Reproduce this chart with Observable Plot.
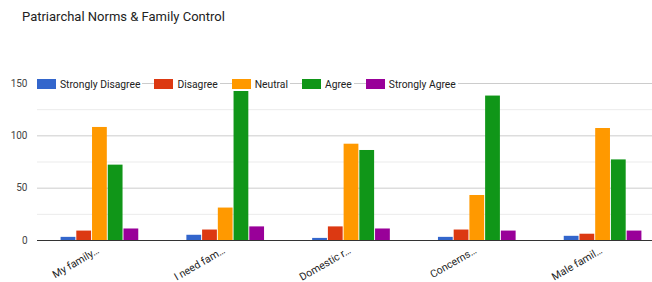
<!DOCTYPE html>
<html>
<head>
<meta charset="utf-8">
<script src="https://cdn.jsdelivr.net/npm/d3@7"></script>
<script src="https://cdn.jsdelivr.net/npm/@observablehq/plot@0.6"></script>
<style>
  html, body { margin: 0; padding: 0; background: #fff; }
  #wrap { position: relative; width: 652px; height: 282px; font-family: Roboto, Arial, sans-serif; }
  #title { position: absolute; left: 22px; top: 9px; font-size: 13px; color: #222; white-space: nowrap; }
  #legend { position: absolute; left: 37px; top: 78px; height: 12px; display: flex; align-items: center; font-size: 10.3px; color: #222; }
  #legend .item { display: flex; align-items: center; background: #fff; padding-right: 2px; }
  #legend .sw { width: 19px; height: 10px; margin-right: 4px; }
  #chart svg { display: block; }
</style>
</head>
<body>
<div id="wrap">
  <div id="chart"></div>
  <div id="title">Patriarchal Norms &amp; Family Control</div>
  <div id="legend"></div>
</div>
<script>
const categories = ["My family…", "I need fam…", "Domestic r…", "Concerns…", "Male famil…"];
const seriesNames = ["Strongly Disagree", "Disagree", "Neutral", "Agree", "Strongly Agree"];
const stronglyDisagree = [3, 5, 2, 3, 4];
const disagree = [9, 10, 13, 10, 6];
const neutral = [108, 31, 92, 43, 107];
const agree = [72, 144, 86, 138, 77];
const stronglyAgree = [11, 13, 11, 9, 9];
const yTicks = [0, 50, 100, 150];
const yMinor = [25, 75, 125];
const colors = ["#3366cc", "#dc3912", "#ff9900", "#109618", "#990099"];

const seriesValues = [stronglyDisagree, disagree, neutral, agree, stronglyAgree];
const key = (c, s) => c + "|" + s;

const rows = [];
categories.forEach((c, i) => {
  seriesNames.forEach((s, j) => {
    rows.push({category: c, series: s, value: seriesValues[j][i], key: key(c, s)});
  });
});

// band domain: bars of each category, with spacer slots between categories
const domain = [];
categories.forEach((c, i) => {
  seriesNames.forEach(s => domain.push(key(c, s)));
  if (i < categories.length - 1) for (let k = 0; k < 3; k++) domain.push("gap" + i + "_" + k);
});

const W = 652, H = 282;
const chart = Plot.plot({
  width: W,
  height: H,
  marginLeft: 37,
  marginRight: 0,
  marginTop: 83,
  marginBottom: 42,
  style: {fontFamily: "Roboto, Arial, sans-serif", background: "#fff", overflow: "visible"},
  x: {domain, range: [37, 665], paddingInner: 0.06, paddingOuter: 1.5, round: false, axis: null},
  y: {domain: [0, 150], axis: null},
  color: {domain: seriesNames, range: colors},
  marks: [
    Plot.ruleY(yMinor, {stroke: "#ebebeb", strokeWidth: 1}),
    Plot.ruleY(yTicks.filter(d => d > 0), {stroke: "#cccccc", strokeWidth: 1}),
    Plot.barY(rows, {x: "key", y: "value", fill: "series"}),
    Plot.ruleY([0], {stroke: "#333333", strokeWidth: 1}),
    Plot.axisY({ticks: yTicks, tickSize: 0, tickPadding: 10, fontSize: 10, color: "#444", label: null, tickFormat: d => String(d)}),
    Plot.text(categories, {
      x: d => key(d, "Neutral"),
      y: () => 0,
      text: d => d,
      rotate: -30,
      textAnchor: "end",
      lineAnchor: "bottom",
      dx: 0,
      dy: 12,
      fontSize: 10.5,
      fill: "#222"
    })
  ]
});
document.getElementById("chart").appendChild(chart);

const legend = document.getElementById("legend");
seriesNames.forEach((s, i) => {
  const item = document.createElement("div");
  item.className = "item";
  item.style.marginRight = i < seriesNames.length - 1 ? "12px" : "0";
  const sw = document.createElement("div");
  sw.className = "sw";
  sw.style.background = colors[i];
  const t = document.createElement("span");
  t.textContent = s;
  item.appendChild(sw);
  item.appendChild(t);
  legend.appendChild(item);
});
</script>
</body>
</html>
